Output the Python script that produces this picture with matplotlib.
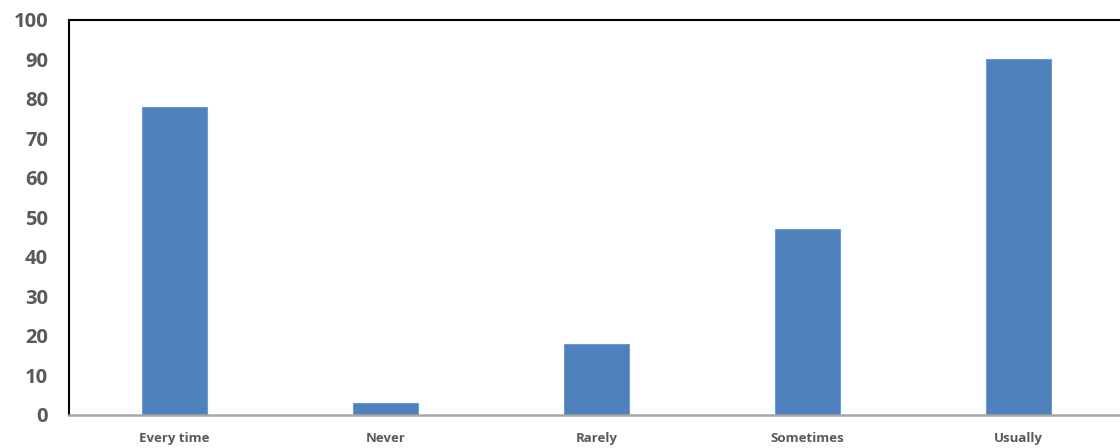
import matplotlib
matplotlib.use('Agg')
import matplotlib.pyplot as plt
import numpy as np

# survey answers
categories = ['Every time', 'Never', 'Rarely', 'Sometimes', 'Usually']
counts = [78, 3, 18, 47, 90]
y_ticks = [0, 10, 20, 30, 40, 50, 60, 70, 80, 90, 100]

plt.rcParams['font.family'] = ['Open Sans', 'DejaVu Sans']

fig = plt.figure(figsize=(11.2, 4.48), dpi=100)
# right edge of the plot box sits just past the canvas, as in the reference
ax = fig.add_axes([0.0616, 0.0737, 0.942, 0.8817])

x = np.arange(len(categories))
ax.bar(x, counts, width=0.31, color='#4f81bd', edgecolor='#6e9bd0', linewidth=0.8, zorder=2)

ax.set_xlim(-0.5, len(categories) - 0.5)
ax.set_ylim(0, 100)
ax.set_yticks(y_ticks)
ax.set_xticks(x)
ax.set_xticklabels(categories)

for lab in ax.get_yticklabels():
    lab.set_fontweight('bold')
for lab in ax.get_xticklabels():
    lab.set_fontweight('bold')

ax.tick_params(axis='y', length=0, pad=15, labelsize=14.5, labelcolor='#595959')
ax.tick_params(axis='x', length=0, pad=12, labelsize=9.5, labelcolor='#595959')

ax.spines['left'].set_color('black')
ax.spines['left'].set_linewidth(1.5)
ax.spines['top'].set_color('black')
ax.spines['top'].set_linewidth(1.5)
ax.spines['right'].set_color('black')
ax.spines['bottom'].set_color('#a6a6a6')
ax.spines['bottom'].set_linewidth(1.8)

fig.savefig('out.png', dpi=100)
